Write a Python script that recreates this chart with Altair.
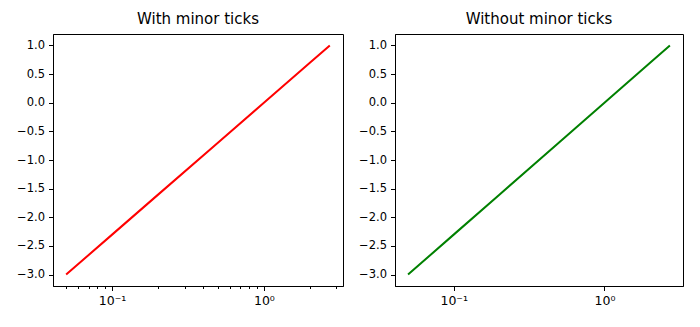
import altair as alt
import pandas as pd

xs = [0.0498, 0.1, 0.2, 0.5, 1.0, 2.0, 2.718]
ys = [-3.0, -2.303, -1.609, -0.693, 0.0, 0.693, 1.0]
y_ticks = [-3.0, -2.5, -2.0, -1.5, -1.0, -0.5, 0.0, 0.5, 1.0]
minor_ticks = [0.05, 0.06, 0.07, 0.08, 0.09, 0.1, 0.2, 0.3, 0.4, 0.5, 0.6, 0.7, 0.8, 0.9, 1.0, 2.0, 3.0]
major_ticks = [0.1, 1.0]
titles = ["With minor ticks", "Without minor ticks"]
colors = ["red", "green"]

df = pd.DataFrame({"x": xs, "y": ys})

label_expr = "datum.value == 0.1 ? '10⁻¹' : (datum.value == 1 ? '10⁰' : '')"
major_test = "abs(log(datum.value)/log(10) - round(log(datum.value)/log(10))) < 0.001"

def panel(title, color, tick_values, w):
    xaxis = alt.Axis(
        values=tick_values,
        labelExpr=label_expr,
        title=None,
        grid=False,
        labelOverlap=False,
        labelFlush=False,
        labelFontSize=12.5,
        tickSize={"condition": {"test": major_test, "value": 4.5}, "value": 2.5},
    )
    yaxis = alt.Axis(values=y_ticks, format=".1f", title=None, grid=False, tickSize=4.5, labelFontSize=11.5)
    return alt.Chart(df).mark_line(color=color, strokeWidth=2).encode(
        x=alt.X("x:Q", scale=alt.Scale(type="log", domain=[0.0408, 3.32], nice=False), axis=xaxis),
        y=alt.Y("y:Q", scale=alt.Scale(domain=[-3.2, 1.2], nice=False, zero=False), axis=yaxis),
    ).properties(width=w, height=252, title=alt.TitleParams(title, fontSize=15, font="DejaVu Sans", fontWeight="normal", color="black", offset=7))

chart = alt.hconcat(
    panel(titles[0], colors[0], minor_ticks, 290),
    panel(titles[1], colors[1], major_ticks, 288),
    spacing=14,
).properties(
    padding={"left": 16, "top": 11, "right": 5, "bottom": 5},
    background="white",
).configure_view(
    stroke="black", strokeWidth=1
).configure_axis(
    labelFont="DejaVu Sans", labelColor="black",
    tickColor="black", domainColor="black", labelPadding=4, domain=True,
)

chart.save("out.html", embed_options={"renderer": "svg", "actions": False})
